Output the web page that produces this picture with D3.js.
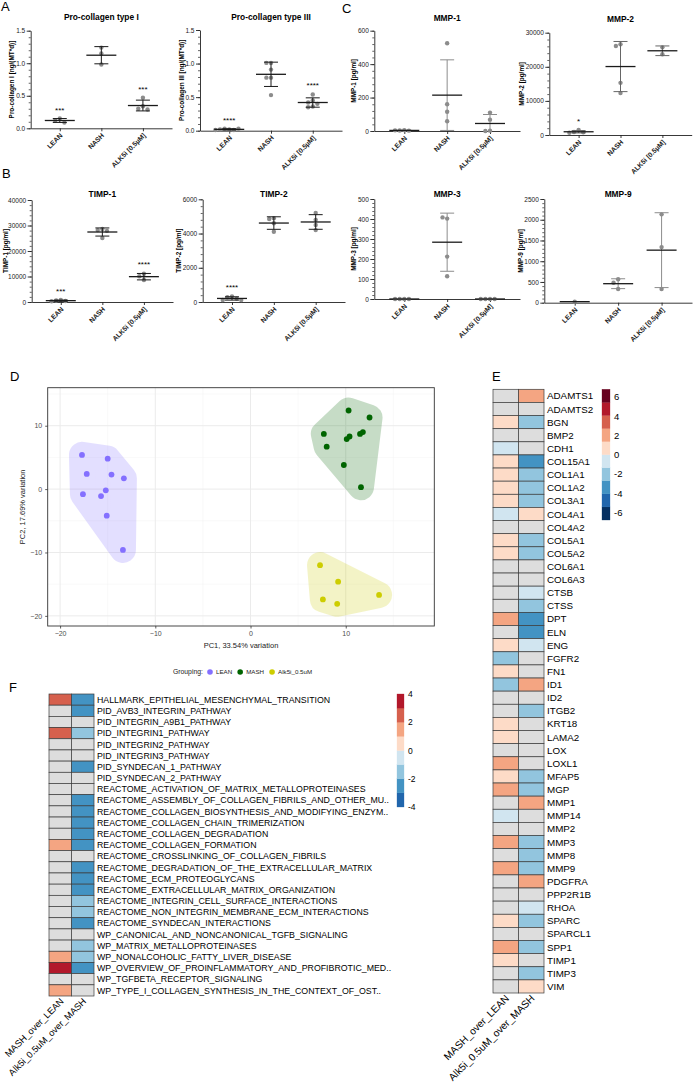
<!DOCTYPE html>
<html lang="en">
<head>
<meta charset="UTF-8">
<title>Fibrosis panel figure</title>
<script src="https://d3js.org/d3.v7.min.js"></script>
<style>
  body { margin: 0; background: #fff; }
  svg { font-family: "Liberation Sans", Arial, sans-serif; }
</style>
</head>
<body>
<script>
// ---------- data ----------
const groups = ["LEAN", "NASH", "ALK5i [0.5µM]"];

// dot plots: one array of replicate values per group
const procol1 = [[0.15, 0.12, 0.09], [1.24, 1.15, 0.98], [0.47, 0.34, 0.30, 0.29]];
const procol3 = [[0.02, 0.03, 0.01, 0.02, 0.03, 0.01], [1.01, 1.01, 0.91, 0.79, 0.79, 0.53], [0.54, 0.45, 0.42, 0.40, 0.36, 0.35]];
const timp1 = [[800, 600, 400, 300], [28600, 28200, 27900, 25100], [11100, 10100, 8600]];
const timp2 = [[330, 280, 200, 120, 110], [4900, 4850, 4600, 4100], [5200, 4800, 4500, 4200]];
const mmp1 = [[5, 3, 2, 4], [525, 160, 115, 58], [110, 68, 2, 0]];
const mmp2 = [[1450, 900, 800, 650], [26600, 26100, 15300, 12300], [25700, 23700]];
const mmp3 = [[0, 0, 0, 0], [402, 408, 212, 114], [0, 0, 0, 0]];
const mmp9 = [[25], [565, 480, 330], [2130, 1340, 330]];

const procol1Stars = ["***", "", "***"];
const procol3Stars = ["****", "", "****"];
const timp1Stars = ["***", "", "****"];
const timp2Stars = ["****", "", ""];
const mmp2Stars = ["*", "", ""];
const noStars = ["", "", ""];

// PCA scores [PC1, PC2]
const pcaGroups = ["LEAN", "MASH", "Alk5i_0.5uM"];
const pcaLean = [[-17.7, 5.4], [-15.0, 4.8], [-17.2, 2.4], [-14.6, 2.3], [-13.3, 1.7], [-17.6, -0.8],
                 [-15.7, -1.1], [-15.2, -0.2], [-15.1, -4.2], [-13.4, -9.6]];
const pcaMash = [[10.3, 12.4], [7.7, 8.7], [8.0, 6.7], [10.1, 7.9], [10.4, 8.3], [11.5, 8.7],
                 [9.8, 3.8], [12.5, 11.3], [11.8, 9.0], [11.6, 0.3]];
const pcaAlk = [[7.3, -12.0], [9.2, -14.6], [7.6, -17.4], [9.1, -18.1], [13.5, -16.7]];

// heatmap E (log2 fold change; null = not significant)
const contrasts = ["MASH_over_LEAN", "Alk5i_0.5uM_over_MASH"];
const genes = ["ADAMTS1", "ADAMTS2", "BGN", "BMP2", "CDH1", "COL15A1", "COL1A1", "COL1A2", "COL3A1", "COL4A1",
  "COL4A2", "COL5A1", "COL5A2", "COL6A1", "COL6A3", "CTSB", "CTSS", "DPT", "ELN", "ENG", "FGFR2", "FN1",
  "ID1", "ID2", "ITGB2", "KRT18", "LAMA2", "LOX", "LOXL1", "MFAP5", "MGP", "MMP1", "MMP14", "MMP2",
  "MMP3", "MMP8", "MMP9", "PDGFRA", "PPP2R1B", "RHOA", "SPARC", "SPARCL1", "SPP1", "TIMP1", "TIMP3", "VIM"];
const geneMashLean = [null, null, 0.7, null, -0.7, 0.7, 0.7, 0.7, 0.7, -0.7,
  null, 0.7, 0.7, null, null, null, null, 2, null, 0.7, -2, 0.7,
  -2, null, null, 0.7, 0.7, null, 2, 0.7, 2, null, -0.7, null,
  2, null, 2, null, null, null, 0.7, null, 2, 0.7, null, null];
const geneAlkMash = [2, null, -2, null, null, -3.4, -2, -2, -2, 0.7,
  null, -2, -2, null, null, -0.7, -2, -3.4, -3.4, -0.7, null, null,
  2, null, -2, null, null, null, null, -2, -2, 2, null, null,
  -2, -2, -2, 2, null, -0.7, -2, null, -2, null, -2, 0.7];

// heatmap F (pathway scores)
const pathways = ["HALLMARK_EPITHELIAL_MESENCHYMAL_TRANSITION", "PID_AVB3_INTEGRIN_PATHWAY",
  "PID_INTEGRIN_A9B1_PATHWAY", "PID_INTEGRIN1_PATHWAY", "PID_INTEGRIN2_PATHWAY", "PID_INTEGRIN3_PATHWAY",
  "PID_SYNDECAN_1_PATHWAY", "PID_SYNDECAN_2_PATHWAY", "REACTOME_ACTIVATION_OF_MATRIX_METALLOPROTEINASES",
  "REACTOME_ASSEMBLY_OF_COLLAGEN_FIBRILS_AND_OTHER_MU..", "REACTOME_COLLAGEN_BIOSYNTHESIS_AND_MODIFYING_ENZYM..",
  "REACTOME_COLLAGEN_CHAIN_TRIMERIZATION", "REACTOME_COLLAGEN_DEGRADATION", "REACTOME_COLLAGEN_FORMATION",
  "REACTOME_CROSSLINKING_OF_COLLAGEN_FIBRILS", "REACTOME_DEGRADATION_OF_THE_EXTRACELLULAR_MATRIX",
  "REACTOME_ECM_PROTEOGLYCANS", "REACTOME_EXTRACELLULAR_MATRIX_ORGANIZATION",
  "REACTOME_INTEGRIN_CELL_SURFACE_INTERACTIONS", "REACTOME_NON_INTEGRIN_MEMBRANE_ECM_INTERACTIONS",
  "REACTOME_SYNDECAN_INTERACTIONS", "WP_CANONICAL_AND_NONCANONICAL_TGFB_SIGNALING",
  "WP_MATRIX_METALLOPROTEINASES", "WP_NONALCOHOLIC_FATTY_LIVER_DISEASE",
  "WP_OVERVIEW_OF_PROINFLAMMATORY_AND_PROFIBROTIC_MED..", "WP_TGFBETA_RECEPTOR_SIGNALING",
  "WP_TYPE_I_COLLAGEN_SYNTHESIS_IN_THE_CONTEXT_OF_OST.."];
const pathMashLean = [2.5, null, null, 2.5, null, null, null, null, null, null, null, null, null, 1.5,
  null, null, null, null, null, null, null, null, null, 1.5, 3.5, null, 1.5];
const pathAlkMash = [-2.5, -2.5, null, -1.5, null, null, -2.5, null, null, -2.5, -2.5, -2.5, -2.5, -2.5,
  null, -2.5, -2.5, -2.5, -1.5, -1.5, -2.5, null, -1.5, -1.5, -2.5, null, null];

const rdbu10 = ["#053061", "#2166ac", "#4393c3", "#92c5de", "#d1e5f0", "#fddbc7", "#f4a582", "#d6604d", "#b2182b", "#67001f"];
const rdbu8 = ["#2166ac", "#4393c3", "#92c5de", "#d1e5f0", "#fddbc7", "#f4a582", "#d6604d", "#b2182b"];

// ---------- drawing ----------
const svg = d3.select("body").append("svg").attr("width", 698).attr("height", 1085);

// panel letters
[["A", 1, 11], ["B", 2, 178], ["C", 342, 13], ["D", 10, 381], ["E", 492, 381], ["F", 9, 692]].forEach(l => {
  svg.append("text").attr("x", l[1]).attr("y", l[2]).attr("font-size", 13).text(l[0]);
});

// spread overlapping points sideways, Prism style
function swarm(vals, y, r) {
  const placed = [];
  return vals.map(v => {
    const py = y(v);
    for (const k of [0, -1, 1, -2, 2, -3, 3, -4, 4]) {
      const px = k * r * 2.1;
      if (placed.every(p => Math.hypot(p[0] - px, p[1] - py) >= r * 2)) { placed.push([px, py]); return px; }
    }
    return 0;
  });
}

function dotPanel(c) {
  const g = svg.append("g");
  const y = d3.scaleLinear().domain([0, c.max]).range([c.yBot, c.yTop]);
  const x = d3.scalePoint().domain(groups).range([c.x0, c.x1]).padding(0.7);

  // minor ticks
  const minor = d3.range(0, c.max + 1e-9, c.step / 5);
  g.append("g").attr("transform", `translate(${c.x0},0)`)
    .call(d3.axisLeft(y).tickValues(minor).tickSize(2).tickFormat(""))
    .call(a => a.select(".domain").remove())
    .call(a => a.selectAll("line").attr("stroke", "#222").attr("stroke-width", 0.7));

  const yAx = g.append("g").attr("transform", `translate(${c.x0},0)`)
    .call(d3.axisLeft(y).tickValues(d3.range(0, c.max + 1e-9, c.step)).tickSize(4).tickSizeOuter(0).tickFormat(c.fmt));
  yAx.selectAll("text").attr("font-size", 6.5).attr("fill", "#222").attr("x", -5.5);
  yAx.selectAll("line, path").attr("stroke", "#222").attr("stroke-width", 0.9);
  const w = yAx.node().getBBox().width;

  const xAx = g.append("g").attr("transform", `translate(0,${c.yBot})`)
    .call(d3.axisBottom(x).tickSize(3).tickSizeOuter(0));
  xAx.selectAll("line, path").attr("stroke", "#222").attr("stroke-width", 0.9);
  xAx.selectAll("text").attr("font-size", 6.8).attr("font-weight", "bold").attr("fill", "#222")
    .attr("text-anchor", "end").attr("x", 0).attr("y", 0).attr("dy", "0.35em")
    .attr("transform", "translate(1,6) rotate(-45)");

  g.append("text").attr("x", (c.x0 + c.x1) / 2).attr("y", c.titleY).attr("text-anchor", "middle")
    .attr("font-size", 8.4).attr("font-weight", "bold").text(c.title);
  const labX = Math.max(5.5, c.x0 - w - 3.5);
  g.append("text").attr("transform", `translate(${labX},${(c.yTop + c.yBot) / 2}) rotate(-90)`)
    .attr("text-anchor", "middle").attr("dy", "0.35em").attr("font-size", 6.4).attr("font-weight", "bold").text(c.ylab);

  c.vals.forEach((vals, i) => {
    const cx = x(groups[i]);
    const offs = swarm(vals, y, 2.2);
    g.append("g").selectAll("circle").data(vals).join("circle")
      .attr("cx", (d, k) => cx + offs[k]).attr("cy", d => y(d)).attr("r", 2.2).attr("fill", "#8c8c8c");

    const m = d3.mean(vals);
    const sd = vals.length > 1 ? d3.deviation(vals) : 0;
    const lo = Math.max(0, m - sd), hi = m + sd;
    if (sd > 0) {
      const eb = g.append("g").attr("stroke", c.sd).attr("stroke-width", 1);
      eb.append("line").attr("x1", cx).attr("x2", cx).attr("y1", y(lo)).attr("y2", y(hi));
      eb.append("line").attr("x1", cx - 7).attr("x2", cx + 7).attr("y1", y(hi)).attr("y2", y(hi));
      if (m - sd > 0) eb.append("line").attr("x1", cx - 7).attr("x2", cx + 7).attr("y1", y(lo)).attr("y2", y(lo));
    }
    g.append("line").attr("x1", cx - 15).attr("x2", cx + 15).attr("y1", y(m)).attr("y2", y(m))
      .attr("stroke", "#1a1a1a").attr("stroke-width", 1.3);

    if (c.stars[i]) {
      const top = Math.max(d3.max(vals), hi);
      g.append("text").attr("x", cx).attr("y", y(top) - 6).attr("text-anchor", "middle")
        .attr("font-size", 8).text(c.stars[i]);
    }
  });
}

const f1 = d3.format(".1f"), f0 = d3.format("d");
[
  { title: "Pro-collagen type I", ylab: "Pro-collagen I [ng/(MT*d)]", vals: procol1, stars: procol1Stars, max: 1.5, step: 0.5, fmt: f1, x0: 30.7, x1: 172, yTop: 30.7, yBot: 128.3, titleY: 20, sd: "#1a1a1a" },
  { title: "Pro-collagen type III", ylab: "Pro-collagen III [ng/(MT*d)]", vals: procol3, stars: procol3Stars, max: 1.5, step: 0.5, fmt: f1, x0: 200, x1: 342, yTop: 30, yBot: 130.7, titleY: 20, sd: "#1a1a1a" },
  { title: "TIMP-1", ylab: "TIMP-1 [pg/ml]", vals: timp1, stars: timp1Stars, max: 40000, step: 10000, fmt: f0, x0: 31.7, x1: 173, yTop: 200, yBot: 302, titleY: 197, sd: "#1a1a1a" },
  { title: "TIMP-2", ylab: "TIMP-2 [pg/ml]", vals: timp2, stars: timp2Stars, max: 6000, step: 2000, fmt: f0, x0: 202.7, x1: 345, yTop: 199.3, yBot: 302, titleY: 197, sd: "#1a1a1a" },
  { title: "MMP-1", ylab: "MMP-1 [pg/ml]", vals: mmp1, stars: noStars, max: 600, step: 200, fmt: f0, x0: 374.3, x1: 520, yTop: 30.7, yBot: 131, titleY: 21, sd: "#8c8c8c" },
  { title: "MMP-2", ylab: "MMP-2 [pg/ml]", vals: mmp2, stars: mmp2Stars, max: 30000, step: 10000, fmt: f0, x0: 549.3, x1: 691.7, yTop: 32.7, yBot: 135, titleY: 22, sd: "#666" },
  { title: "MMP-3", ylab: "MMP-3 [pg/ml]", vals: mmp3, stars: noStars, max: 500, step: 100, fmt: f0, x0: 374.3, x1: 520, yTop: 199, yBot: 299, titleY: 197, sd: "#8c8c8c" },
  { title: "MMP-9", ylab: "MMP-9 [pg/ml]", vals: mmp9, stars: noStars, max: 2500, step: 500, fmt: f0, x0: 544.3, x1: 692, yTop: 199, yBot: 302.7, titleY: 197, sd: "#8c8c8c" }
].forEach(dotPanel);

// ---------- PCA (D) ----------
const pcaColors = ["#8470ff", "#006400", "#cdcd00"];
const pcaData = [pcaLean, pcaMash, pcaAlk];
const px = d3.scaleLinear().domain([-21.3, 19.3]).range([47.7, 434.3]);
const py = d3.scaleLinear().domain([-21.6, 16]).range([626, 387.7]);
const dG = svg.append("g");
const grid = dG.append("g");
[-15, -5, 5, 15].forEach(v => {
  grid.append("line").attr("x1", px(v)).attr("x2", px(v)).attr("y1", py.range()[0]).attr("y2", py.range()[1]).attr("stroke", "#f2f2f2").attr("stroke-width", 0.5);
  grid.append("line").attr("y1", py(v)).attr("y2", py(v)).attr("x1", px.range()[0]).attr("x2", px.range()[1]).attr("stroke", "#f2f2f2").attr("stroke-width", 0.5);
});
[-20, -10, 0, 10].forEach(v => {
  grid.append("line").attr("x1", px(v)).attr("x2", px(v)).attr("y1", py.range()[0]).attr("y2", py.range()[1]).attr("stroke", "#ebebeb").attr("stroke-width", 1);
  grid.append("line").attr("y1", py(v)).attr("y2", py(v)).attr("x1", px.range()[0]).attr("x2", px.range()[1]).attr("stroke", "#ebebeb").attr("stroke-width", 1);
});

pcaData.forEach((pts, i) => {
  const hull = d3.polygonHull(pts.map(p => [px(p[0]), py(p[1])]));
  dG.append("path").attr("d", "M" + hull.join("L") + "Z")
    .attr("fill", pcaColors[i]).attr("stroke", pcaColors[i]).attr("stroke-width", 26)
    .attr("stroke-linejoin", "round").attr("opacity", 0.22);
});
pcaData.forEach((pts, i) => {
  dG.append("g").selectAll("circle").data(pts).join("circle")
    .attr("cx", d => px(d[0])).attr("cy", d => py(d[1])).attr("r", 2.9).attr("fill", pcaColors[i]);
});
dG.append("rect").attr("x", 47.7).attr("y", 387.7).attr("width", 434.3 - 47.7).attr("height", 626 - 387.7)
  .attr("fill", "none").attr("stroke", "#333").attr("stroke-width", 0.9);

const dxAx = dG.append("g").attr("transform", "translate(0,626)")
  .call(d3.axisBottom(px).tickValues([-20, -10, 0, 10]).tickSize(2.5).tickSizeOuter(0));
const dyAx = dG.append("g").attr("transform", "translate(47.7,0)")
  .call(d3.axisLeft(py).tickValues([-20, -10, 0, 10]).tickSize(2.5).tickSizeOuter(0));
[dxAx, dyAx].forEach(a => {
  a.select(".domain").remove();
  a.selectAll("line").attr("stroke", "#333").attr("stroke-width", 0.8);
  a.selectAll("text").attr("font-size", 7).attr("fill", "#4d4d4d");
});
dG.append("text").attr("x", (47.7 + 434.3) / 2).attr("y", 648).attr("text-anchor", "middle")
  .attr("font-size", 7.5).attr("fill", "#222").text("PC1, 33.54% variation");
dG.append("text").attr("transform", `translate(25,${(387.7 + 626) / 2}) rotate(-90)`).attr("text-anchor", "middle")
  .attr("font-size", 7.5).attr("fill", "#222").text("PC2, 17.69% variation");

const lg = dG.append("g").attr("font-size", 6.2).attr("fill", "#222");
lg.append("text").attr("x", 173).attr("y", 674).attr("font-size", 6.8).text("Grouping:");
let lx = 210;
pcaGroups.forEach((n, i) => {
  lg.append("circle").attr("cx", lx).attr("cy", 672).attr("r", 2.8).attr("fill", pcaColors[i]);
  const t = lg.append("text").attr("x", lx + 6).attr("y", 674).text(n);
  lx += 6 + t.node().getComputedTextLength() + 8;
});

// ---------- heatmaps (E, F) ----------
function heat(o) {
  const g = svg.append("g");
  const x = d3.scaleBand().domain(contrasts).range([o.x0, o.x1]);
  const y = d3.scaleBand().domain(o.rows).range([o.y0, o.y1]);
  const color = d3.scaleQuantize().domain(o.domain).range(o.colors);
  o.values.forEach((col, j) => {
    g.append("g").selectAll("rect").data(col).join("rect")
      .attr("x", x(contrasts[j])).attr("y", (d, i) => y(o.rows[i]))
      .attr("width", x.bandwidth()).attr("height", y.bandwidth())
      .attr("fill", d => d == null ? "#dddddd" : color(d))
      .attr("stroke", "#3c3c3c").attr("stroke-width", 0.7);
  });
  g.append("g").selectAll("text").data(o.rows).join("text")
    .attr("x", o.x1 + 3).attr("y", d => y(d) + y.bandwidth() / 2).attr("dy", "0.36em")
    .attr("font-size", o.rowFont).text(d => d);
  g.append("g").selectAll("text").data(contrasts).join("text")
    .attr("text-anchor", "end").attr("font-size", o.colFont)
    .attr("transform", d => `translate(${x(d) + x.bandwidth() / 2 + 4},${o.y1 + 6}) rotate(-45)`)
    .text(d => d);

  const ly = d3.scaleLinear().domain(o.domain).range([o.ly1, o.ly0]);
  g.append("g").selectAll("rect").data(o.colors).join("rect")
    .attr("x", o.lx).attr("width", o.lw)
    .attr("y", c => ly(color.invertExtent(c)[1]))
    .attr("height", c => ly(color.invertExtent(c)[0]) - ly(color.invertExtent(c)[1]))
    .attr("fill", c => c).attr("stroke", c => c).attr("stroke-width", 0.3);
  g.append("g").selectAll("text").data(o.ticks).join("text")
    .attr("x", o.lx + o.lw + 4).attr("y", d => ly(d)).attr("dy", "0.36em")
    .attr("font-size", o.legFont).text(d => d);
}

heat({ rows: genes, values: [geneMashLean, geneAlkMash], x0: 493, x1: 544, y0: 389.3, y1: 993,
  domain: [-6.8, 6.8], colors: rdbu10, rowFont: 9.8, colFont: 10.2,
  lx: 602, lw: 8, ly0: 389.3, ly1: 520, ticks: [6, 4, 2, 0, -2, -4, -6], legFont: 9.5 });

heat({ rows: pathways, values: [pathMashLean, pathAlkMash], x0: 49, x1: 94, y0: 694, y1: 996,
  domain: [-4, 4], colors: rdbu8, rowFont: 8.8, colFont: 9.2,
  lx: 397, lw: 7, ly0: 694, ly1: 807, ticks: [4, 2, 0, -2, -4], legFont: 8.5 });
</script>
</body>
</html>
